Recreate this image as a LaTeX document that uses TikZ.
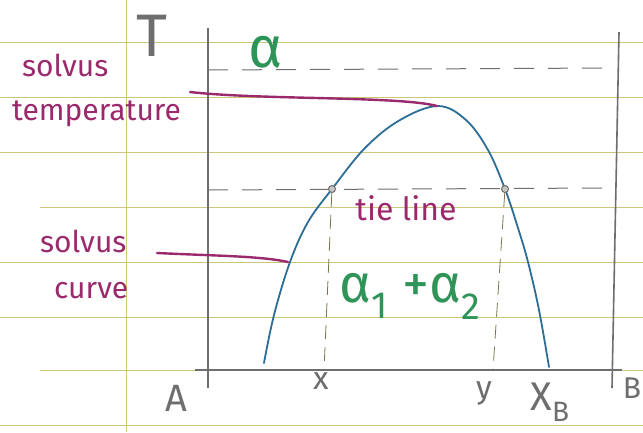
\documentclass[tikz,border=0pt]{standalone}
\usepackage{fontspec}
\setmainfont{Fira Sans}
\definecolor{paper}{HTML}{C9C77A}
\definecolor{pencil}{HTML}{6E6E6E}
\definecolor{plum}{HTML}{9B2A6C}
\definecolor{teal2}{HTML}{2C6E96}
\definecolor{leaf}{HTML}{2E9458}
\begin{document}
\begin{tikzpicture}[x=1pt,y=-1pt,
  ruling/.style={paper, line width=1pt},
  axisline/.style={pencil, line width=1.6pt},
  dashline/.style={pencil, line width=1pt, dash pattern=on 20pt off 14pt},
  vdash/.style={paper!60!black, line width=0.8pt, dash pattern=on 14pt off 8pt},
  pointer/.style={plum, line width=2.4pt, line cap=round},
  lbl/.style={plum, font=\fontsize{30}{34}\selectfont, align=left, inner sep=0pt},
  glbl/.style={leaf, inner sep=0pt},
  axlbl/.style={pencil, inner sep=0pt},
  tiept/.style={circle, draw=pencil, fill=pencil!40, line width=1pt, minimum size=7pt, inner sep=0pt}]
\useasboundingbox (0,0) rectangle (643,432);
\fill[white] (0,0) rectangle (643,432);
% paper rulings
\foreach \yy in {42,97,152,262,317,425}
  \draw[ruling] (0,\yy) -- (643,\yy);
\foreach \yy in {207,370}
  \draw[ruling] (40,\yy) -- (643,\yy);
\draw[ruling] (126,0) -- (126,432);
% axes
\coordinate (tl) at (208,28);
\coordinate (bl) at (208,388);
\coordinate (ax0) at (195,370);
\coordinate (ax1) at (622,370);
\coordinate (tr) at (619,32);
\coordinate (br) at (612,388);
\draw[axisline] (tl) -- (bl);
\draw[axisline] (ax0) -- (ax1);
\draw[axisline] (tr) -- (br);
% top dashed line (alpha region)
\coordinate (a0) at (208,70);
\coordinate (a1) at (610,68);
\draw[dashline] (a0) -- (a1);
% tie line
\coordinate (t0) at (208,190);
\coordinate (t1) at (605,188);
\draw[dashline] (t0) -- (t1);
% solvus curve
\draw[teal2, line width=1.8pt, line cap=round] plot[smooth, tension=0.6] coordinates {
 (264,363) (274,315) (290,262) (308,222) (332,189) (365,148) (400,120) (438,106)
 (466,120) (488,150) (505,189) (518,228) (528,262) (539,310) (549,367)};
% tie points
\node[tiept] (p1) at (332,189) {};
\node[tiept] (p2) at (505,189) {};
\coordinate (x0) at (324,370);
\coordinate (y0) at (493,370);
\draw[vdash] (p1) -- (x0);
\draw[vdash] (p2) -- (y0);
% labels
\node[axlbl, font=\fontsize{60}{62}\selectfont] (T) at (152,36) {T};
\node[glbl, font=\fontsize{58}{60}\selectfont] (alpha) at (266,52) {α};
\node[lbl, anchor=north west] (solvtemp) at (12,54) {\hspace*{10pt}solvus\\[10pt]temperature};
\coordinate (st0) at (190,92);
\coordinate (st1) at (437,106);
\draw[pointer] (st0) .. controls (260,100) and (400,96) .. (st1);
\node[lbl, anchor=north west] (solvcurve) at (40,230) {solvus\\[12pt]\hspace*{14pt}curve};
\coordinate (sc0) at (157,253);
\coordinate (sc1) at (288,262);
\draw[pointer] (sc0) .. controls (220,256) and (260,256) .. (sc1);
\node[lbl, font=\fontsize{32}{34}\selectfont] (tie) at (406,208) {tie line};
\node[glbl, font=\fontsize{54}{56}\selectfont] (mix) at (410,296) {α\textsubscript{1} +α\textsubscript{2}};
\node[axlbl, font=\fontsize{38}{40}\selectfont] (A) at (176,398) {A};
\node[axlbl, font=\fontsize{32}{34}\selectfont] (xl) at (321,381) {x};
\node[axlbl, font=\fontsize{32}{34}\selectfont] (yl) at (484,393) {y};
\node[axlbl, font=\fontsize{40}{42}\selectfont] (XB) at (550,402) {X\textsubscript{B}};
\node[axlbl, font=\fontsize{30}{32}\selectfont] (B) at (632,388) {B};
\end{tikzpicture}
\end{document}
